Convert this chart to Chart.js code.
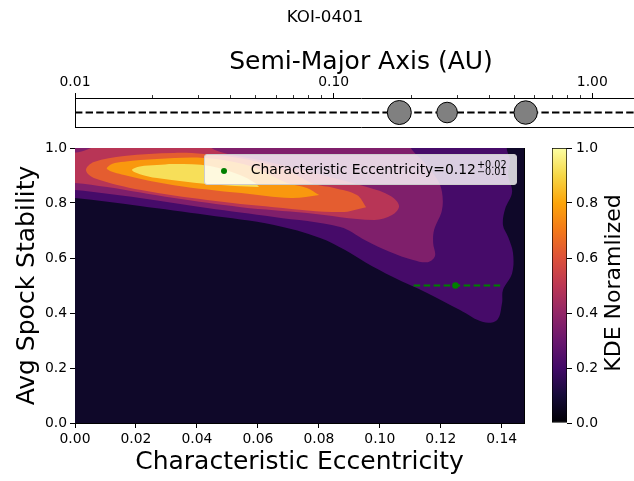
<!DOCTYPE html>
<html>
<head>
<meta charset="utf-8">
<script src="https://cdn.jsdelivr.net/npm/chart.js@4.4.1/dist/chart.umd.min.js"></script>
<style>
  body { margin: 0; width: 634px; height: 481px; overflow: hidden; background: #fff; position: relative; font-family: "DejaVu Sans", sans-serif; }
  canvas { position: absolute; }
  #topCanvas { left: 0; top: 0; }
  #mainCanvas { left: 0; top: 130px; }
  #barCanvas { left: 540px; top: 130px; }
  #legend { position: absolute; left: 204px; top: 154px; width: 313px; height: 31px; box-sizing: border-box;
            background: rgba(255, 255, 255, 0.8); border: 1px solid #cccccc; border-radius: 3px; }
  #legendDot { position: absolute; left: 16px; top: 12.5px; width: 6.4px; height: 6.4px; border-radius: 50%; background: #008000; }
  #legendText { position: absolute; left: 45.7px; top: 5.9px; font-size: 13.9px; line-height: 1; white-space: nowrap; color: #000; }
  .ss { display: inline-block; font-size: 9.7px; vertical-align: -1.8px; margin-left: 1px; }
  .ss span { display: block; line-height: 7.5px; }
</style>
</head>
<body>
<canvas id="topCanvas" width="660" height="145"></canvas>
<canvas id="mainCanvas" width="540" height="351"></canvas>
<canvas id="barCanvas" width="94" height="351"></canvas>
<div id="legend">
  <span id="legendDot"></span>
  <span id="legendText">Characteristic Eccentricity=0.12<span class="ss"><span>+0.02</span><span>−0.01</span></span></span>
</div>
<script>
//planets: semi-major axis (AU) and marker radius
const planetA = [0.1794, 0.2745, 0.5525];
const planetSize = [12, 10.3, 11.7];
const aMin = 0.01;
const aMax = 1.627;
const aMajorTicks = [0.01, 0.1, 1];
const aMinorTicks = [0.02, 0.03, 0.04, 0.05, 0.06, 0.07, 0.08, 0.09, 0.2, 0.3, 0.4, 0.5, 0.6, 0.7, 0.8, 0.9];

//main panel axes
const eccMax = 0.1473;
const eccTicks = [0, 0.02, 0.04, 0.06, 0.08, 0.10, 0.12, 0.14];
const stabTicks = [0, 0.2, 0.4, 0.6, 0.8, 1.0];

//characteristic eccentricity with its error range
const charEcc = 0.1248;
const charEccLo = 0.1111;
const charEccHi = 0.140;
const charStab = 0.5;

//kde filled contours, [ecc, stability] outlines, lowest level first
const kdeLevels = [0.07, 0.21, 0.35, 0.49, 0.63, 0.77, 0.92];
const kdeBand0 = [[-0.01, -0.05], [0.16, -0.05], [0.16, 1.06], [-0.01, 1.06], [-0.01, -0.05]];
const kdeBand1 = [[-0.01, 1.06], [0.141, 1.06], [0.1417, 0.993], [0.1427, 0.956], [0.1421, 0.902], [0.1434, 0.840],
  [0.1411, 0.778], [0.1404, 0.720], [0.1421, 0.676], [0.1437, 0.618], [0.1434, 0.545], [0.1404, 0.484],
  [0.1401, 0.436], [0.1385, 0.375], [0.1339, 0.367], [0.1263, 0.411], [0.1155, 0.473], [0.1043, 0.531],
  [0.0952, 0.585], [0.0886, 0.629], [0.0804, 0.673], [0.0653, 0.720], [0.0433, 0.756], [0.0213, 0.789],
  [0, 0.818], [-0.01, 0.825], [-0.01, 1.06]];
const kdeBand2 = [[-0.01, 1.06], [0.1066, 1.06], [0.1106, 0.993], [0.1148, 0.945], [0.1188, 0.887], [0.1204, 0.840],
  [0.1204, 0.775], [0.1178, 0.702], [0.1175, 0.655], [0.1181, 0.607], [0.1158, 0.585], [0.1109, 0.593],
  [0.1034, 0.622], [0.0952, 0.665], [0.0870, 0.713], [0.0653, 0.749], [0.0433, 0.782], [0.0213, 0.818],
  [0, 0.847], [-0.01, 0.851], [-0.01, 1.06]];
const kdeBand3 = [[-0.01, 0.876], [-0.01, 0.975], [0.001, 0.985], [0.0066, 1.007], [0.0148, 1.06], [0.0377, 1.06],
  [0.0459, 0.993], [0.0607, 0.956], [0.0771, 0.913], [0.0958, 0.858], [0.1037, 0.825], [0.1063, 0.789],
  [0.104, 0.756], [0.0981, 0.738], [0.0761, 0.764], [0.0545, 0.785], [0.0325, 0.818], [0.0105, 0.858],
  [0, 0.873], [-0.01, 0.876]];
const kdeBand4 = [[0.0955, 0.785], [0.0873, 0.767], [0.0653, 0.785], [0.0433, 0.811], [0.0217, 0.847], [0.0062, 0.891],
  [0.0036, 0.92], [0.0062, 0.949], [0.0161, 0.971], [0.0325, 0.982], [0.0423, 0.978], [0.0574, 0.956],
  [0.0705, 0.913], [0.0784, 0.869], [0.085, 0.855], [0.0925, 0.829], [0.0955, 0.785]];
const kdeBand5 = [[0.0801, 0.829], [0.0709, 0.818], [0.0545, 0.836], [0.0325, 0.865], [0.0161, 0.902], [0.0105, 0.924],
  [0.0121, 0.942], [0.0161, 0.950], [0.0269, 0.96], [0.0423, 0.964], [0.0574, 0.935], [0.0696, 0.873],
  [0.0761, 0.855], [0.0801, 0.829]];
const kdeBand6 = [[0.0604, 0.858], [0.0525, 0.862], [0.0433, 0.869], [0.0269, 0.891], [0.0213, 0.905], [0.0187, 0.92],
  [0.0213, 0.933], [0.0269, 0.938], [0.0325, 0.942], [0.0443, 0.935], [0.0541, 0.902], [0.0591, 0.873],
  [0.0604, 0.858]];
const kdeBands = [kdeBand0, kdeBand1, kdeBand2, kdeBand3, kdeBand4, kdeBand5, kdeBand6];

//colorbar
const cbRange = [0, 1];
const cbTicks = [0, 0.2, 0.4, 0.6, 0.8, 1.0];
const cbLabel = 'KDE Noramlized';
const infernoStops = ['#000004', '#160b39', '#420a68', '#6a176e', '#932667', '#bc3754',
  '#dd513a', '#f37819', '#fca50a', '#f6d746', '#fcffa4'];

Chart.defaults.font.family = '"DejaVu Sans", sans-serif';
Chart.defaults.color = '#000';
Chart.defaults.animation = false;
Chart.defaults.events = [];
Chart.defaults.plugins.legend.display = false;
Chart.defaults.plugins.tooltip.enabled = false;

const tickFont = { size: 13.9 };
const titleFont = { size: 25 };

function hexRgb(h) {
    return [1, 3, 5].map(i => parseInt(h.slice(i, i + 2), 16));
}

function inferno(t) {
    const n = infernoStops.length - 1;
    const f = Math.min(Math.max(t, 0), 1) * n;
    const i = Math.min(Math.floor(f), n - 1);
    const u = f - i;
    const a = hexRgb(infernoStops[i]);
    const b = hexRgb(infernoStops[i + 1]);
    return `rgb(${a.map((v, k) => Math.round(v + (b[k] - v) * u)).join(',')})`;
}

const fixWidth = w => s => { s.width = w; };
const fixHeight = h => s => { s.height = h; };
const setTicks = vals => s => { s.ticks = vals.map(v => ({ value: v })); };

//top panel: planets along semi-major axis
//(canvas runs a bit below the box so the big markers don't push the layout)
new Chart(document.getElementById('topCanvas'), {
    type: 'line',
    data: {
        datasets: [{
            data: planetA.map(a => ({ x: a, y: 0.5 })),
            showLine: false,
            pointRadius: planetSize,
            backgroundColor: '#808080',
            borderColor: '#000',
            borderWidth: 1,
            order: 0
        }, {
            data: [{ x: aMin, y: 0.5 }, { x: aMax, y: 0.5 }],
            borderColor: '#000',
            borderWidth: 2,
            borderDash: [7.4, 3.2],
            pointRadius: 0,
            order: 1
        }]
    },
    options: {
        responsive: false,
        layout: { padding: { left: 0, right: 10, top: 0, bottom: 0 } },
        plugins: {
            title: {
                display: true,
                text: 'KOI-0401',
                font: { size: 16.7, weight: 'normal' },
                padding: { top: 8, bottom: 12 }
            }
        },
        scales: {
            x: {
                type: 'logarithmic',
                position: 'top',
                weight: 1,
                min: aMin,
                max: aMax,
                afterBuildTicks: setTicks(aMajorTicks),
                afterFit: fixHeight(58),
                ticks: { font: tickFont, padding: 2.7, maxRotation: 0, autoSkip: false, callback: v => Number(v).toFixed(2) },
                grid: { drawOnChartArea: false, tickLength: 5, color: '#000', tickWidth: 1 },
                border: { display: true, color: '#000', width: 1 },
                title: { display: true, text: 'Semi-Major Axis (AU)', font: titleFont, padding: { top: 7, bottom: 0 } }
            },
            xMinor: {
                type: 'logarithmic',
                position: 'top',
                weight: 0,
                min: aMin,
                max: aMax,
                afterBuildTicks: setTicks(aMinorTicks),
                afterFit: fixHeight(0),
                ticks: { display: false },
                grid: { drawOnChartArea: false, tickLength: 3, color: '#000', tickWidth: 0.8 },
                border: { display: false }
            },
            xBottom: {
                type: 'logarithmic',
                position: 'bottom',
                min: aMin,
                max: aMax,
                afterFit: fixHeight(18),
                ticks: { display: false },
                grid: { display: false, drawTicks: false },
                border: { display: true, color: '#000', width: 1 }
            },
            y: {
                min: 0,
                max: 1,
                afterFit: fixWidth(75),
                ticks: { display: false },
                grid: { display: false, drawTicks: false },
                border: { display: true, color: '#000', width: 1 }
            }
        }
    }
});

//main panel: kde contours + characteristic eccentricity
const bandSets = kdeBands.map((pts, i) => ({
    data: pts.map(p => ({ x: p[0], y: p[1] })),
    fill: 'shape',
    backgroundColor: inferno(kdeLevels[i]),
    borderColor: inferno(kdeLevels[i]),
    borderWidth: 0,
    pointRadius: 0,
    tension: i === 0 ? 0 : 0.35,
    order: 20 - i
}));

new Chart(document.getElementById('mainCanvas'), {
    type: 'line',
    data: {
        datasets: [
            ...bandSets,
            {
                data: [{ x: charEccLo, y: charStab }, { x: charEccHi, y: charStab }],
                borderColor: '#008000',
                borderWidth: 2,
                borderDash: [6.5, 3.5],
                pointRadius: 0,
                order: 1
            }, {
                data: [{ x: charEcc, y: charStab }],
                showLine: false,
                pointRadius: 3.2,
                backgroundColor: '#008000',
                borderWidth: 0,
                order: 0
            }
        ]
    },
    options: {
        responsive: false,
        elements: { line: { capBezierPoints: false } },
        layout: { padding: { left: 0, right: 16, top: 18, bottom: 0 } },
        scales: {
            x: {
                type: 'linear',
                min: 0,
                max: eccMax,
                afterBuildTicks: setTicks(eccTicks),
                afterFit: fixHeight(58),
                ticks: { font: tickFont, padding: 3, maxRotation: 0, autoSkip: false, callback: v => v.toFixed(2) },
                grid: { drawOnChartArea: false, tickLength: 5, color: '#000' },
                border: { display: true, color: '#000', width: 1 },
                title: { display: true, text: 'Characteristic Eccentricity', font: titleFont, padding: { top: 0, bottom: 4 } }
            },
            y: {
                type: 'linear',
                min: 0,
                max: 1,
                afterBuildTicks: setTicks(stabTicks),
                afterFit: fixWidth(75),
                ticks: { font: tickFont, padding: 3, callback: v => v.toFixed(1) },
                grid: { drawOnChartArea: false, tickLength: 5, color: '#000' },
                border: { display: true, color: '#000', width: 1 },
                title: { display: true, text: 'Avg Spock Stability', font: titleFont, padding: { top: 12, bottom: 0 } }
            },
            xTop: {
                type: 'linear',
                position: 'top',
                afterFit: fixHeight(0),
                ticks: { display: false },
                grid: { display: false, drawTicks: false },
                border: { display: true, color: '#000', width: 1 }
            },
            yRight: {
                type: 'linear',
                position: 'right',
                afterFit: fixWidth(0),
                ticks: { display: false },
                grid: { display: false, drawTicks: false },
                border: { display: true, color: '#000', width: 1 }
            }
        }
    }
});

//colorbar
const cbTitle = {
    id: 'cbTitle',
    afterDraw(chart) {
        const c = chart.ctx;
        c.save();
        c.translate(74, 153);
        c.rotate(-Math.PI / 2);
        c.font = '22px "DejaVu Sans"';
        c.fillStyle = '#000';
        c.textAlign = 'center';
        c.textBaseline = 'middle';
        c.fillText(cbLabel, 0, 0);
        c.restore();
    }
};

new Chart(document.getElementById('barCanvas'), {
    type: 'bar',
    data: {
        labels: [''],
        datasets: [{
            data: [cbRange],
            backgroundColor: ctx => {
                const area = ctx.chart.chartArea;
                if (!area) return '#000';
                const g = ctx.chart.ctx.createLinearGradient(0, area.bottom, 0, area.top);
                infernoStops.forEach((c, i) => g.addColorStop(i / (infernoStops.length - 1), c));
                return g;
            },
            borderColor: '#000',
            borderWidth: 1,
            borderSkipped: false,
            barPercentage: 1,
            categoryPercentage: 1
        }]
    },
    options: {
        responsive: false,
        layout: { padding: { left: 12, right: 0, top: 18, bottom: 58 } },
        scales: {
            x: { display: false },
            y: {
                position: 'right',
                min: 0,
                max: 1,
                afterBuildTicks: setTicks(cbTicks),
                afterFit: fixWidth(67),
                ticks: { font: tickFont, padding: 4, callback: v => v.toFixed(1) },
                grid: { drawOnChartArea: false, tickLength: 5, color: '#000' },
                border: { display: false }
            }
        }
    },
    plugins: [cbTitle]
});
</script>
</body>
</html>
